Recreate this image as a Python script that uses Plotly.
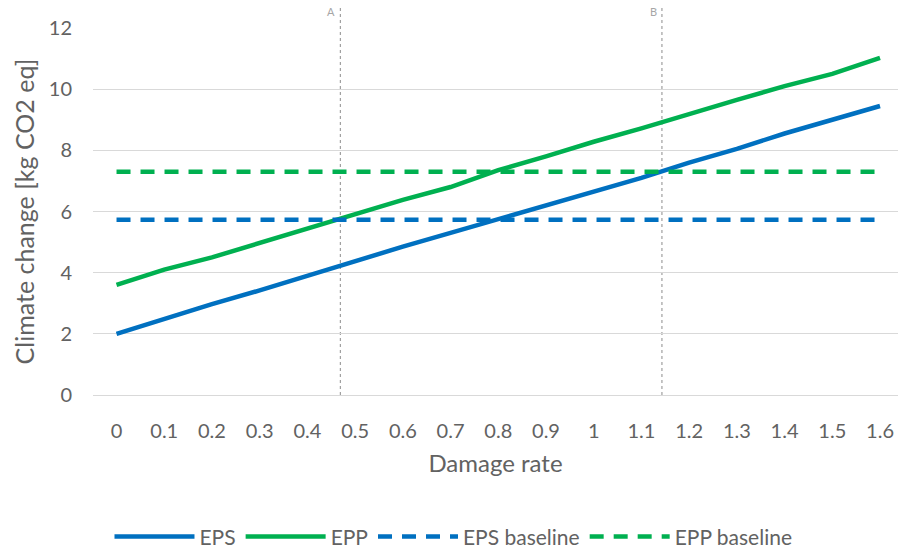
import plotly.graph_objects as go

damage_rate = [0, 0.1, 0.2, 0.3, 0.4, 0.5, 0.6, 0.7, 0.8, 0.9, 1.0, 1.1, 1.2, 1.3, 1.4, 1.5, 1.6]
tick_labels = ["0", "0.1", "0.2", "0.3", "0.4", "0.5", "0.6", "0.7", "0.8", "0.9", "1",
               "1.1", "1.2", "1.3", "1.4", "1.5", "1.6"]
eps = [2.0, 2.5, 2.97, 3.42, 3.9, 4.35, 4.85, 5.3, 5.75, 6.2, 6.65, 7.1, 7.6, 8.05, 8.55, 9.0, 9.45]
epp = [3.6, 4.1, 4.5, 4.97, 5.45, 5.9, 6.38, 6.8, 7.35, 7.8, 8.28, 8.72, 9.2, 9.65, 10.1, 10.5, 11.02]
eps_baseline = [5.73] * len(damage_rate)
epp_baseline = [7.3] * len(damage_rate)
markers_x = [0.469, 1.143]
markers_label = ["A", "B"]

BLUE = "#0070C0"
GREEN = "#00B050"
FONT = "Lato"
TXT = "#626262"

fig = go.Figure()
fig.add_trace(go.Scatter(x=damage_rate, y=eps, name="EPS", mode="lines",
                         line=dict(color=BLUE, width=4.5)))
fig.add_trace(go.Scatter(x=damage_rate, y=epp, name="EPP", mode="lines",
                         line=dict(color=GREEN, width=4.5)))
fig.add_trace(go.Scatter(x=damage_rate, y=eps_baseline, name="EPS baseline", mode="lines",
                         line=dict(color=BLUE, width=4.5, dash="14px,10px")))
fig.add_trace(go.Scatter(x=damage_rate, y=epp_baseline, name="EPP baseline", mode="lines",
                         line=dict(color=GREEN, width=4.5, dash="14px,10px")))

for mx, ml in zip(markers_x, markers_label):
    fig.add_shape(type="line", xref="x", yref="paper", x0=mx, x1=mx, y0=0, y1=1.055,
                  line=dict(color="#8c8c8c", width=1, dash="dot"), layer="below")
    fig.add_annotation(x=mx, xref="x", y=1.045, yref="paper", text=ml, showarrow=False,
                       xanchor="right", xshift=-3, yanchor="middle",
                       font=dict(family=FONT, size=11, color="#a6a6a6"))

fig.update_layout(
    width=898, height=549,
    margin=dict(l=93, r=0, t=28, b=154, autoexpand=False),
    paper_bgcolor="white", plot_bgcolor="white",
    font=dict(family=FONT, color=TXT),
    showlegend=True,
    legend=dict(orientation="h", xref="container", yref="container",
                x=0.505, xanchor="center", y=0.022, yanchor="middle",
                font=dict(family=FONT, size=21, color=TXT), itemwidth=80,
                traceorder="normal"),
)
fig.update_xaxes(
    range=[-0.0493, 1.6377], tickvals=damage_rate, ticktext=tick_labels,
    showgrid=False, zeroline=False, showline=False, automargin=False,
    ticks="", ticklabelstandoff=22,
    tickfont=dict(family=FONT, size=20, color=TXT),
    title=dict(text="Damage rate", font=dict(family=FONT, size=24, color=TXT), standoff=14),
)
fig.update_yaxes(
    range=[0, 12], tickvals=[0, 2, 4, 6, 8, 10, 12], automargin=False,
    showgrid=True, gridcolor="#d9d9d9", gridwidth=1,
    zeroline=True, zerolinecolor="#d9d9d9", zerolinewidth=1,
    ticks="", ticklabelstandoff=20,
    tickfont=dict(family=FONT, size=20, color=TXT),
    title=dict(text="Climate change [kg CO2 eq]", font=dict(family=FONT, size=25, color=TXT), standoff=7),
)

fig.write_html("out.html", config={"displayModeBar": False},
               post_script="document.body.style.margin='0';document.body.style.padding='0';")
